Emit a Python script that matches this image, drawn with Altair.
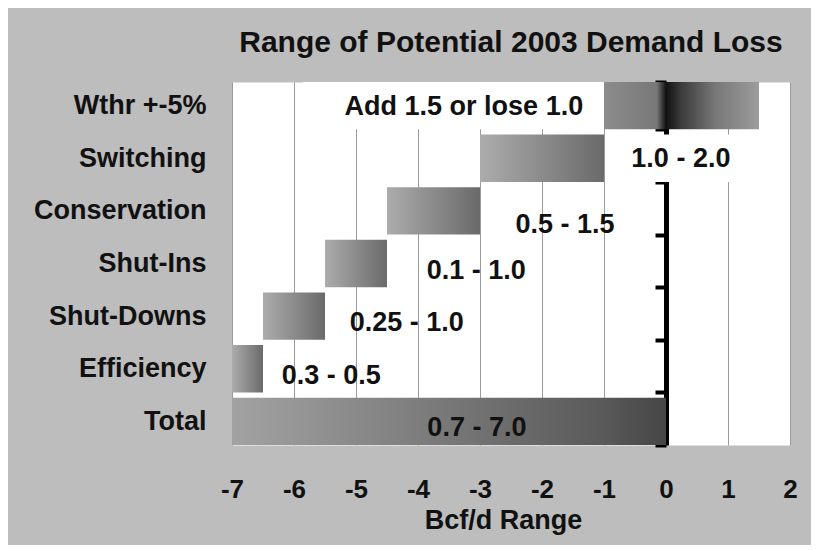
import altair as alt
import pandas as pd

categories = ["Wthr +-5%", "Switching", "Conservation", "Shut-Ins", "Shut-Downs", "Efficiency", "Total"]
range_start = [-1.0, -3.0, -4.5, -5.5, -6.5, -7.0, -7.0]
range_end = [1.5, -1.0, -3.0, -4.5, -5.5, -6.5, 0.0]
range_text = ["Add 1.5 or lose 1.0", "1.0 - 2.0", "0.5 - 1.5", "0.1 - 1.0", "0.25 - 1.0", "0.3 - 0.5", "0.7 - 7.0"]
text_x = [-3.26, 0.24, -1.63, -3.06, -4.18, -5.40, -3.05]
x_ticks = [-7, -6, -5, -4, -3, -2, -1, 0, 1, 2]
box_rows = ["Wthr +-5%", "Switching"]
box_start = [-5.85, -0.9]
box_end = [-1.0, 1.25]

FONT = "Liberation Sans"
INK = "#111111"

df = pd.DataFrame({"cat": categories, "start": range_start, "end": range_end,
                   "text": range_text, "tx": text_x})
boxes = pd.DataFrame({"cat": box_rows, "start": box_start, "end": box_end})

xscale = alt.Scale(domain=[-7, 2], nice=False, zero=False)
yscale = alt.Scale(domain=categories, paddingInner=0.1, paddingOuter=0)

y_axis = alt.Axis(title=None, offset=-434, domain=True, domainColor="#000000", domainWidth=5,
                  ticks=True, tickColor="#000000", tickWidth=4, tickSize=11, tickBand="extent",
                  labelPadding=449, labelFont=FONT, labelFontSize=27, labelFontWeight="bold",
                  labelColor=INK, grid=False, zindex=0)
x_axis = alt.Axis(values=x_ticks, labelExpr="'' + datum.value", domain=False, ticks=False,
                  grid=True, gridColor="#9a9a9a", gridWidth=1,
                  labelFont=FONT, labelFontSize=26, labelFontWeight="bold", labelColor=INK,
                  labelPadding=31, labelFlush=False, labelOverlap=False,
                  title="Bcf/d Range", titleFont=FONT, titleFontSize=27, titleFontWeight="bold",
                  titleColor=INK, titlePadding=5, titleX=271, zindex=0)

Y = alt.Y("cat:N", scale=yscale, axis=y_axis)


def grad(stops):
    return alt.LinearGradient(gradient="linear", x1=0, x2=1, y1=0, y2=0,
                              stops=[alt.GradientStop(color=c, offset=o) for o, c in stops])


neg_grad = grad([(0, "#acacac"), (1, "#6a6a6a")])
total_grad = grad([(0, "#a2a2a2"), (0.85, "#5a5a5a"), (1, "#464646")])
wthr_grad = grad([(0, "#8c8c8c"), (0.34, "#787878"), (0.40, "#111111"), (0.5, "#3c3c3c"),
                  (0.72, "#787878"), (1, "#9c9c9c")])

base = alt.Chart(df)

box_layer = alt.Chart(boxes).mark_rect(color="white").encode(
    x=alt.X("start:Q", scale=xscale, axis=x_axis), x2="end:Q", y=Y)

neg_bars = base.transform_filter(
    alt.FieldOneOfPredicate(field="cat", oneOf=categories[1:6])
).mark_bar(color=neg_grad).encode(x=alt.X("start:Q", scale=xscale, axis=x_axis), x2="end:Q", y=Y)

total_bar = base.transform_filter(
    alt.FieldEqualPredicate(field="cat", equal="Total")
).mark_bar(color=total_grad).encode(x=alt.X("start:Q", scale=xscale, axis=x_axis), x2="end:Q", y=Y)

wthr_bar = base.transform_filter(
    alt.FieldEqualPredicate(field="cat", equal="Wthr +-5%")
).mark_bar(color=wthr_grad).encode(x=alt.X("start:Q", scale=xscale, axis=x_axis), x2="end:Q", y=Y)


def text_layer(cats, dy):
    return base.transform_filter(
        alt.FieldOneOfPredicate(field="cat", oneOf=cats)
    ).mark_text(font=FONT, fontSize=27, fontWeight="bold", color=INK, align="center",
                baseline="middle", dy=dy).encode(
        x=alt.X("tx:Q", scale=xscale, axis=x_axis), y=Y, text="text:N")


texts_top = text_layer(categories[0:2], 1)
texts_cons = text_layer(categories[2:3], 14)
texts_rest = text_layer(categories[3:7], 7)

chart = alt.layer(box_layer, neg_bars, total_bar, wthr_bar, texts_top, texts_cons, texts_rest).properties(
    width=558, height=363,
    title=alt.TitleParams("Range of Potential 2003 Demand Loss", font=FONT, fontSize=30,
                          fontWeight="bold", color=INK, anchor="middle", offset=-14,
                          baseline="alphabetic"),
    padding={"left": 224, "top": 74, "right": 21, "bottom": 100},
    autosize=alt.AutoSizeParams(type="none"),
).configure(background="#bdbdbd").configure_view(fill="white", strokeOpacity=0)

chart.save("out.html", embed_options={"renderer": "svg", "actions": False})
